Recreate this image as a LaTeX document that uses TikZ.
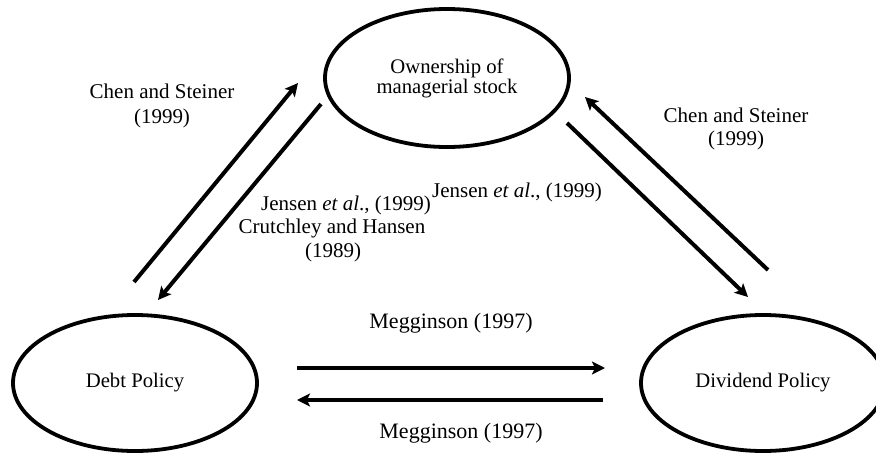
\documentclass[tikz,border=0pt]{standalone}
\usepackage{fontspec}
\setmainfont{Liberation Serif}
\usetikzlibrary{shapes.geometric,arrows.meta}
\tikzset{
  oval/.style={draw=black, line width=3.8pt, ellipse, inner sep=0pt,
    minimum width=244pt, minimum height=138pt, align=center,
    font=\fontsize{20.7}{20}\selectfont},
  lab/.style={align=center, inner sep=0pt, font=\fontsize{21}{24}\selectfont},
  arr/.style={line width=4pt, draw=black,
    -{Stealth[length=13pt,width=13pt,inset=3pt]}}
}
\begin{document}
\begin{tikzpicture}[x=1pt,y=-1pt]
\useasboundingbox (0,0) rectangle (876,453);
\fill[white] (0,0) rectangle (876,453);

% ellipses
\node[oval] (own) at (447,78) {Ownership of\\managerial stock};
\node[oval, minimum height=136pt] (debt) at (135,383) {Debt Policy};
\node[oval, minimum height=136pt] (div) at (763,383) {Dividend Policy};

% arrow end points
\coordinate (lus) at (134,282);  \coordinate (lue) at (298,83);
\coordinate (lds) at (321,104);  \coordinate (lde) at (158,300);
\coordinate (rus) at (768,270);  \coordinate (rue) at (585,97);
\coordinate (rds) at (567,123);  \coordinate (rde) at (748,297);
\coordinate (hrs) at (297,368);  \coordinate (hre) at (605,368);
\coordinate (hls) at (603,400);  \coordinate (hle) at (297,400);

% arrows
\draw[arr] (lus) -- (lue);
\draw[arr] (lds) -- (lde);
\draw[arr] (rus) -- (rue);
\draw[arr] (rds) -- (rde);
\draw[arr] (hrs) -- (hre);
\draw[arr] (hls) -- (hle);

% labels
\node[lab, font=\fontsize{21}{25}\selectfont] (chenl) at (162,105.5) {Chen and Steiner\\(1999)};
\node[lab, font=\fontsize{21}{23}\selectfont] (chenr) at (736,128.5) {Chen and Steiner\\(1999)};
\node[lab] (jl1) at (346,205) {Jensen \textit{et al}., (1999)};
\node[lab] (jl2) at (332,228.5) {Crutchley and Hansen};
\node[lab] (jl3) at (333,252) {(1989)};
\node[lab] (jr) at (517,192) {Jensen \textit{et al}., (1999)};
\node[lab, font=\fontsize{22}{24}\selectfont] (megt) at (451,323) {Megginson (1997)};
\node[lab, font=\fontsize{22}{24}\selectfont] (megb) at (461,433) {Megginson (1997)};
\end{tikzpicture}
\end{document}
